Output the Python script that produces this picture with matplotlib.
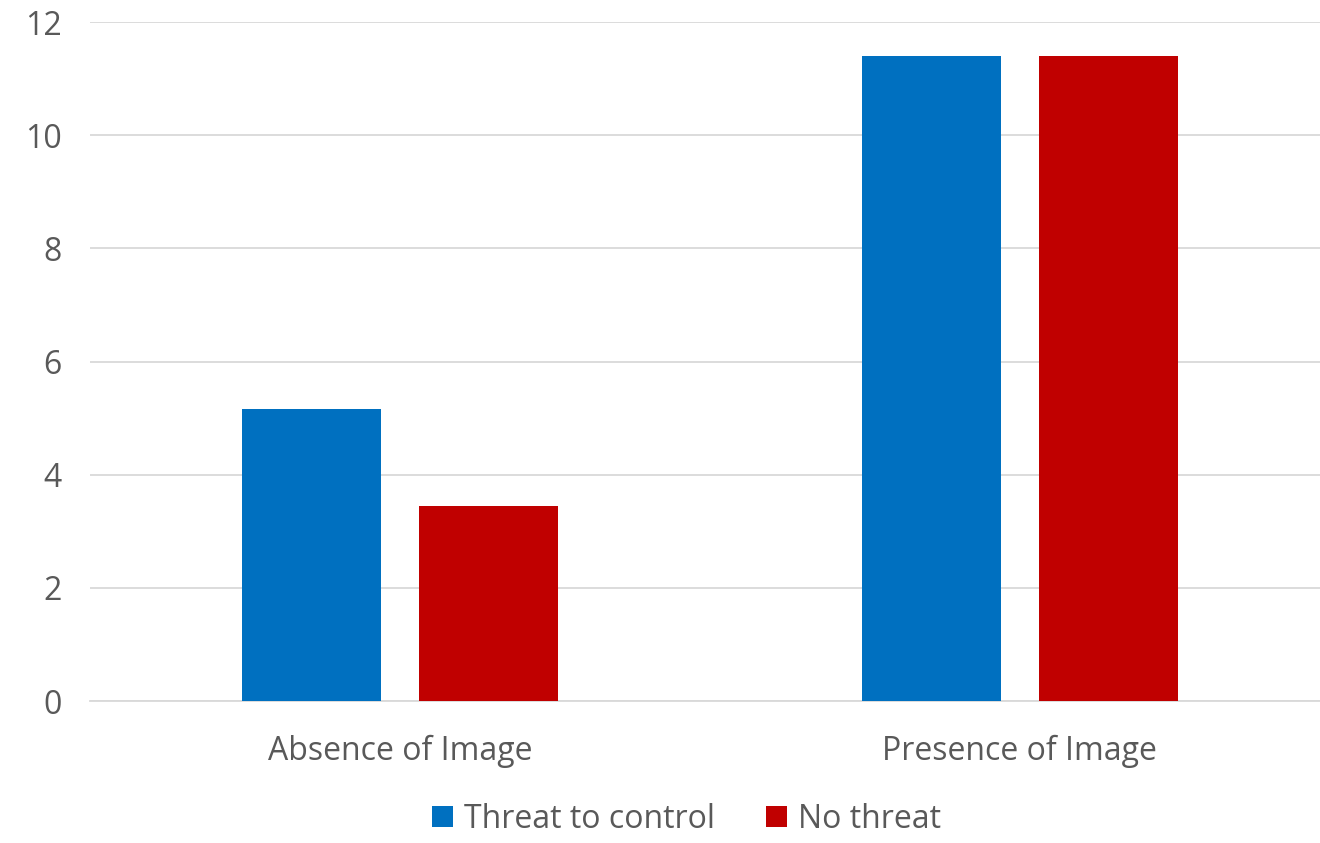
import numpy as np
import matplotlib.pyplot as plt

categories = ["Absence of Image", "Presence of Image"]
threat = [5.16, 11.40]
no_threat = [3.45, 11.40]
series_names = ["Threat to control", "No threat"]

plt.rcParams['font.family'] = ['Open Sans', 'DejaVu Sans']

fig = plt.figure(figsize=(13.2, 8.43), dpi=100)
ax = fig.add_axes([0.068, 0.1684, 0.9394, 0.8055])

x = np.arange(len(categories))
w = 0.224
gap = 0.061
ax.bar(x - (w + gap) / 2, threat, w, color="#0070C0", label=series_names[0], zorder=3)
ax.bar(x + (w + gap) / 2, no_threat, w, color="#C00000", label=series_names[1], zorder=3)

ax.set_xlim(-0.5, 1.5)
ax.set_ylim(0, 12)
ax.set_yticks(np.arange(0, 13, 2))
ax.set_xticks(x)
ax.set_xticklabels(categories)
ax.yaxis.grid(True, color="#D9D9D9", linewidth=1.3, zorder=0)
ax.set_axisbelow(True)
for s in ["top", "right", "left"]:
    ax.spines[s].set_visible(False)
ax.spines["bottom"].set_color("#D9D9D9")
ax.spines["bottom"].set_linewidth(1.3)
ax.tick_params(axis="both", length=0, labelsize=23, colors="#595959")
ax.tick_params(axis="y", pad=20)
ax.tick_params(axis="x", pad=24)

fig.legend(loc="center", bbox_to_anchor=(0.52, 0.028), ncol=2, frameon=False,
           fontsize=23, labelcolor="#595959", handlelength=0.65, handleheight=0.65,
           handletextpad=0.35, columnspacing=1.6)

fig.savefig("out.png", dpi=100)
